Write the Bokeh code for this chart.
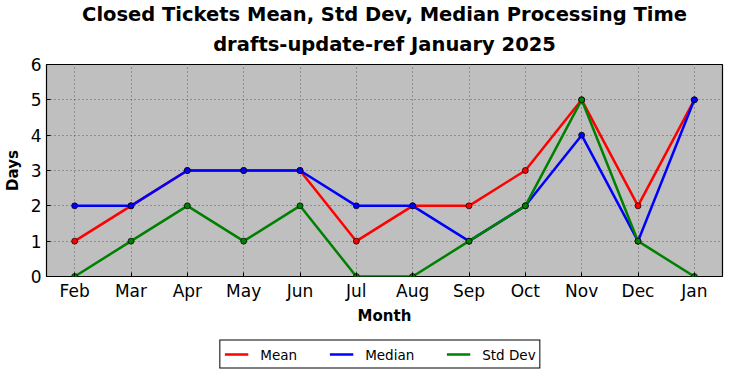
from bokeh.plotting import figure
from bokeh.models import (Title, Legend, LegendItem, FixedTicker, FactorRange, Range1d)
from bokeh.layouts import column
from bokeh.embed import file_html
from bokeh.resources import INLINE

months = ["Feb", "Mar", "Apr", "May", "Jun", "Jul", "Aug", "Sep", "Oct", "Nov", "Dec", "Jan"]
mean_vals = [1, 2, 3, 3, 3, 1, 2, 2, 3, 5, 2, 5]
median_vals = [2, 2, 3, 3, 3, 2, 2, 1, 2, 4, 1, 5]
std_vals = [0, 1, 2, 1, 2, 0, 0, 1, 2, 5, 1, 0]
y_ticks = [0, 1, 2, 3, 4, 5, 6]
title_lines = ["Closed Tickets Mean, Std Dev, Median Processing Time",
               "drafts-update-ref January 2025"]
series_names = ["Mean", "Median", "Std Dev"]
series_colors = ["#ff0000", "#0000ff", "#008000"]

FONT = "DejaVu Sans"

p = figure(x_range=FactorRange(*months, range_padding=0),
           y_range=Range1d(0, 6),
           frame_width=676, frame_height=212,
           min_border_left=38, min_border_right=2, min_border_top=62, min_border_bottom=57,
           output_backend="svg", toolbar_location=None, title=None)

p.border_fill_color = "white"
p.background_fill_color = "#bfbfbf"
p.outline_line_color = "black"
p.outline_line_width = 1.2

p.add_layout(Title(text=title_lines[1], align="center", text_font=FONT,
                   text_font_size="19.5px", text_font_style="bold", vertical_align="top",
                   text_color="black", standoff=14, text_line_height=1.0), "above")
p.add_layout(Title(text=title_lines[0], align="center", text_font=FONT,
                   text_font_size="19.5px", text_font_style="bold",
                   text_color="black", standoff=0, text_line_height=1.0), "above")

for vals, c in zip([mean_vals, median_vals, std_vals], series_colors):
    p.line(months, vals, line_color=c, line_width=2.5)
    p.scatter(months, vals, size=6, fill_color=c, line_color="black", line_width=0.7)

for ax in [p.xaxis[0], p.yaxis[0]]:
    ax.major_label_text_font = FONT
    ax.major_label_text_font_size = "17px"
    ax.major_label_text_color = "black"
    ax.axis_label_text_font = FONT
    ax.axis_label_text_font_size = "15px"
    ax.axis_label_text_font_style = "bold"
    ax.axis_label_text_color = "black"
    ax.axis_line_color = None
    ax.major_tick_in = 4
    ax.major_tick_out = 0
    ax.major_tick_line_color = "black"
    ax.minor_tick_line_color = None

p.xaxis.axis_label = "Month"
p.yaxis.axis_label = "Days"
p.yaxis.ticker = FixedTicker(ticks=y_ticks)
p.xaxis.major_label_standoff = 4
p.yaxis.major_label_standoff = 5
p.xaxis.axis_label_standoff = 3
p.yaxis.axis_label_standoff = 6

p.grid.grid_line_color = "#444444"
p.grid.grid_line_dash = "1 3"
p.grid.grid_line_width = 0.8

# legend strip below the chart (sample lines lie outside its ranges, only the legend shows)
p2 = figure(width=716, height=36, x_range=Range1d(0, 1), y_range=Range1d(0, 1),
            min_border_left=38, min_border_right=2, min_border_top=6, min_border_bottom=0,
            x_axis_location=None, y_axis_location=None,
            output_backend="svg", toolbar_location=None, title=None)
p2.outline_line_color = None
p2.xgrid.visible = False
p2.ygrid.visible = False
items = []
for n, c in zip(series_names, series_colors):
    r = p2.line(x=[5, 6], y=[5, 6], line_color=c, line_width=2.5)
    items.append(LegendItem(label=n, renderers=[r]))
legend = Legend(items=items, orientation="horizontal", location="center",
                label_text_font=FONT, label_text_font_size="13.5px",
                label_text_color="black",
                border_line_color="black", border_line_width=1, border_line_alpha=1.0,
                glyph_width=24, glyph_height=19, label_height=19,
                spacing=32, padding=4, margin=0, label_standoff=12)
p2.add_layout(legend, "center")

layout = column(p, p2, spacing=0)
open("out.html", "w").write(file_html(layout, INLINE))
